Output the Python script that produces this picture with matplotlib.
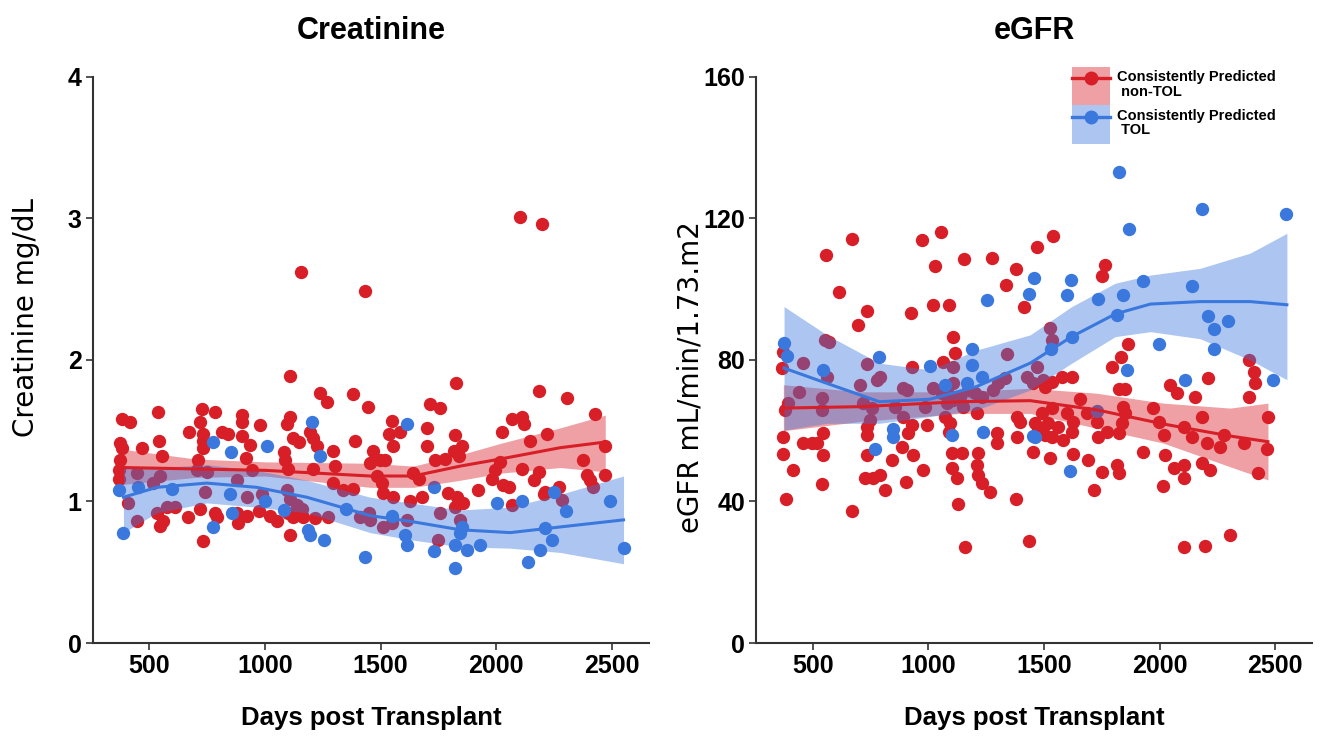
import numpy as np
import matplotlib
matplotlib.use('Agg')
import matplotlib.pyplot as plt
from matplotlib.patches import Patch
from matplotlib.lines import Line2D
from matplotlib.legend_handler import HandlerTuple

plt.rcParams['font.family'] = ['Liberation Sans', 'DejaVu Sans']

RED = '#D81E26'
BLUE = '#3B78DE'

# ---- Creatinine, consistently predicted non-TOL (days, mg/dL)
cr_red_days = [1155, 1433, 1109, 1238, 1268, 1382, 1446, 381, 417, 539, 727, 784, 719, 900, 900, 979,
               1109, 1094, 673, 733, 733, 733, 813, 842, 900, 936, 374, 380, 467, 543, 553, 374, 367,
               367, 1123, 1145, 1195, 1209, 1224, 1292, 1303, 1390, 1080, 1087, 1101, 712, 918, 943,
               1209, 445, 546, 517, 705, 748, 741, 878, 986, 921, 1094, 1109, 1138, 1159, 1296, 1339,
               1382, 409, 445, 575, 532, 611, 1412, 1448, 546, 560, 669, 719, 784, 791, 733, 878, 885,
               921, 972, 1022, 1051, 1101, 1123, 1109, 1166, 1217, 1274,
               1827, 2184, 2305, 2428, 1713, 1757, 1548, 1534, 1585, 1555, 1700, 1700, 1822, 1851, 1815,
               1837, 1736, 1779, 2024, 2067, 2111, 2118, 2219, 2147, 2471, 2374, 2017, 1469, 1455, 1498,
               1519, 1642, 1664, 1484, 1505, 1512, 1555, 1980, 1995, 2031, 2053, 2111, 2161, 2183, 2212,
               2205, 2270, 2284, 2392, 2420, 2471, 2406, 1678, 1793, 1830, 1858, 1822, 1923, 2067, 1627,
               1757, 1750, 1844, 1613, 1548, 1512, 1455, 2103, 2198]
cr_red_vals = [2.62, 2.49, 1.89, 1.77, 1.70, 1.76, 1.67, 1.58, 1.56, 1.63, 1.65, 1.63, 1.56, 1.61, 1.56, 1.54,
               1.60, 1.55, 1.49, 1.48, 1.43, 1.38, 1.49, 1.48, 1.46, 1.40, 1.41, 1.38, 1.38, 1.43, 1.32, 1.29, 1.22,
               1.16, 1.45, 1.42, 1.49, 1.45, 1.39, 1.36, 1.25, 1.43, 1.35, 1.29, 1.23, 1.29, 1.31, 1.22,
               1.23, 1.20, 1.18, 1.13, 1.22, 1.21, 1.07, 1.15, 1.05, 1.03, 1.08, 1.02, 0.975, 0.95, 1.13, 1.08,
               1.09, 0.99, 0.86, 0.96, 0.92, 0.96, 0.89, 0.92, 0.83, 0.86, 0.89, 0.95, 0.92, 0.89, 0.72, 0.92, 0.85,
               0.90, 0.93, 0.90, 0.86, 0.92, 0.89, 0.76, 0.89, 0.88, 0.89,
               1.84, 1.78, 1.73, 1.62, 1.69, 1.66, 1.57, 1.48, 1.49, 1.39, 1.52, 1.39, 1.47, 1.39, 1.36,
               1.32, 1.29, 1.30, 1.49, 1.58, 1.60, 1.55, 1.48, 1.43, 1.39, 1.29, 1.28, 1.36, 1.27, 1.29,
               1.29, 1.20, 1.16, 1.18, 1.13, 1.06, 1.03, 1.16, 1.22, 1.12, 1.10, 1.23, 1.15, 1.21, 1.07,
               1.05, 1.10, 1.01, 1.19, 1.10, 1.19, 1.15, 1.03, 1.06, 1.03, 0.99, 0.96, 1.08, 0.975, 1.00,
               0.92, 0.73, 0.87, 0.87, 0.85, 0.82, 0.87, 3.01, 2.96]

# ---- Creatinine, consistently predicted TOL
cr_blue_days = [1202, 774, 852, 1008, 1238, 370, 388, 849, 856, 777, 1188, 1195, 1253, 1433, 1080, 1613,
                1729, 2003, 2111, 2493, 2248, 2301, 2212, 2241, 2190, 2139, 2550, 1613, 1606, 1729, 1822,
                1844, 1873, 1930, 1822, 1851, 451, 600, 1000, 1350, 1550]
cr_blue_vals = [1.56, 1.42, 1.35, 1.39, 1.32, 1.08, 0.78, 1.05, 0.92, 0.82, 0.80, 0.76, 0.73, 0.61, 0.94, 1.55,
                1.10, 0.99, 1.00, 1.00, 1.07, 0.93, 0.81, 0.73, 0.66, 0.57, 0.67, 0.69, 0.76, 0.65, 0.69,
                0.78, 0.66, 0.69, 0.53, 0.82, 1.10, 1.09, 1.00, 0.95, 0.90]

# ---- Creatinine smooth fits
cr_red_fit_days = [380, 700, 1000, 1455, 1642, 1844, 2017, 2276, 2471]
cr_red_fit = [1.24, 1.23, 1.22, 1.18, 1.18, 1.25, 1.30, 1.38, 1.42]
cr_red_lo = [1.12, 1.17, 1.18, 1.10, 1.10, 1.15, 1.20, 1.24, 1.21]
cr_red_hi = [1.37, 1.30, 1.28, 1.27, 1.25, 1.33, 1.41, 1.52, 1.61]

cr_blue_fit_days = [388, 532, 748, 964, 1181, 1455, 1627, 1844, 2060, 2276, 2550]
cr_blue_fit = [1.03, 1.10, 1.13, 1.10, 1.03, 0.90, 0.86, 0.80, 0.78, 0.82, 0.87]
cr_blue_lo = [0.78, 0.92, 0.99, 0.96, 0.92, 0.78, 0.73, 0.68, 0.67, 0.64, 0.56]
cr_blue_hi = [1.24, 1.24, 1.26, 1.22, 1.15, 1.03, 0.99, 0.94, 0.96, 1.05, 1.18]

# ---- eGFR, consistently predicted non-TOL (days, mL/min/1.73m2)
eg_red_days = [669, 556, 971, 1055, 614, 1029, 1156, 1277, 1379, 1335, 1469, 736, 697, 924, 1022, 1091, 1414,
               1105, 553, 572, 1115, 373, 366, 733, 928, 1065, 1108, 1339,
               457, 442, 561, 394, 380, 539, 539, 705, 777, 791, 719, 755, 733, 748, 892, 906, 856, 892, 928,
               993, 986, 1022, 1058, 1080, 1108, 1080, 1108, 1137, 1151, 1173, 1202, 1231, 1281, 1303, 1332,
               1426, 1454, 1469, 1072, 1094, 1087, 1209, 1382, 1397,
               373, 373, 459, 495, 517, 546, 546, 416, 539, 385, 671, 733, 733, 726, 762, 791, 813, 842, 885,
               935, 913, 978, 902, 1101, 1144, 1101, 1123, 1216, 1209, 1216, 1231, 1267, 1130, 1159, 1296,
               1296, 1382, 1454, 1379, 1437,
               1526, 1534, 1497, 1540, 1764, 1750, 1861, 1832, 1793, 1822, 1851, 1577, 1620, 1534, 1505, 2045,
               2074, 2153, 2211, 2384, 2406, 2413, 2384, 1656, 1685, 1728, 1490, 1534, 1519, 1562, 1462, 1476,
               1599, 1627, 1620, 1505, 1534, 1584, 1735, 1772, 1822, 1837, 1851, 1843, 1973, 1995, 2017, 2103,
               2139, 2182, 2204, 2262, 2276, 2363, 2468, 2466, 2425, 1526, 1627, 1692, 1750, 1817, 1822, 1714,
               1930, 2024, 2060, 2103, 2103, 2182, 2218, 2014, 2106, 2197, 2302]
eg_red_vals = [114.1, 109.7, 113.9, 116.3, 99.3, 106.7, 108.5, 108.9, 105.6, 101.2, 112.0, 93.7, 89.9, 93.4, 95.5,
               95.5, 95.1, 86.6, 85.7, 85.2, 82.1, 82.3, 77.8, 78.8, 78.1, 79.5, 78.1, 81.7,
               79.1, 71.0, 75.3, 67.8, 65.9, 69.2, 65.9, 72.9, 74.3, 75.3, 67.8, 66.3, 61.1, 63.0, 72.0, 71.5, 66.8,
               64.0, 61.6, 61.6, 66.8, 72.0, 70.6, 71.5, 73.4, 67.8, 68.7, 69.6, 66.8, 71.5, 70.6, 69.6, 71.5, 73.4,
               74.8, 75.3, 73.4, 78.1, 64.0, 62.1, 59.7, 64.9, 64.0, 62.6,
               58.3, 53.3, 56.5, 56.5, 56.5, 59.3, 53.1, 48.9, 44.9, 40.6, 37.3, 58.8, 53.0, 46.6, 46.6, 47.5, 43.3,
               51.7, 55.5, 53.1, 59.3, 48.9, 45.6, 53.6, 53.6, 49.4, 46.6, 53.6, 50.3, 47.5, 45.1, 42.8, 39.3, 27.2,
               59.3, 56.5, 58.2, 54.1, 40.6, 28.9,
               89.0, 85.7, 74.4, 115.1, 106.9, 103.6, 84.5, 80.9, 77.9, 71.7, 71.7, 75.3, 75.3, 73.9, 72.5, 72.9,
               70.6, 69.6, 75.0, 80.0, 76.7, 73.4, 69.6, 68.9, 64.9, 62.6, 64.9, 66.3, 62.1, 61.1, 62.1, 60.2,
               64.9, 62.6, 59.7, 58.8, 58.3, 57.4, 58.3, 59.7, 59.3, 62.1, 64.9, 66.8, 66.3, 62.6, 58.8, 61.1,
               58.3, 64.0, 56.5, 55.5, 58.8, 56.5, 64.0, 54.8, 48.0, 52.2, 53.4, 51.7, 48.4, 50.3, 48.1, 43.3,
               54.1, 53.1, 49.4, 50.3, 46.6, 50.8, 48.9, 44.4, 27.1, 27.4, 30.5]

# ---- eGFR, consistently predicted TOL
eg_blue_days = [376, 388, 546, 788, 1007, 1188, 1188, 1072, 1166, 1231, 1253, 1437, 1457, 846, 849, 770, 1238,
                1101, 1454, 1822, 2182, 2547, 1869, 1616, 1601, 1735, 1843, 1930, 2139, 1815, 2211, 2295, 2236,
                1620, 1999, 2233, 1529, 1858, 2110, 2490, 1462, 1613, 1728]
eg_blue_vals = [84.7, 81.1, 77.2, 80.8, 78.3, 83.0, 78.6, 72.9, 73.4, 75.3, 97.0, 98.7, 103.3, 60.4, 58.3, 54.8, 59.7,
                58.8, 58.5, 133.2, 122.6, 121.2, 117.0, 102.6, 98.4, 97.2, 98.4, 102.4, 100.9, 92.7, 92.5, 91.0, 88.7,
                86.6, 84.5, 83.0, 83.0, 77.2, 74.4, 74.4, 58.3, 48.7, 65.7]

# ---- eGFR smooth fits
eg_red_fit_days = [373, 705, 1137, 1440, 1728, 2016, 2305, 2468]
eg_red_fit = [66.4, 66.8, 68.2, 68.5, 65.9, 61.9, 58.5, 56.9]
eg_red_lo = [60.0, 62.6, 64.9, 64.9, 60.7, 56.5, 49.8, 46.1]
eg_red_hi = [73.0, 71.0, 71.0, 72.0, 70.6, 67.8, 66.4, 67.8]

eg_blue_fit_days = [376, 561, 788, 1007, 1209, 1440, 1620, 1808, 1960, 2175, 2391, 2550]
eg_blue_fit = [77.7, 73.4, 68.2, 68.9, 72.5, 79.1, 86.6, 93.0, 95.8, 96.5, 96.5, 95.6]
eg_blue_lo = [60.2, 62.1, 62.1, 64.0, 65.9, 71.5, 79.1, 86.6, 88.0, 86.0, 80.0, 74.4]
eg_blue_hi = [95.1, 87.1, 79.1, 77.2, 82.8, 87.1, 95.1, 101.7, 104.0, 105.9, 110.2, 115.8]


def draw_panel(ax, red_pts, blue_pts, red_fit, blue_fit, ylim, yticks, title, ylabel, ylab_x, ylab_y):
    ax.scatter(red_pts[0], red_pts[1], s=92, color=RED, linewidths=0, zorder=2)
    ax.scatter(blue_pts[0], blue_pts[1], s=92, color=BLUE, linewidths=0, zorder=2)
    for fit, col in ((red_fit, RED), (blue_fit, BLUE)):
        d, m, lo, hi = fit
        ax.fill_between(d, lo, hi, color=col, alpha=0.42, linewidth=0, zorder=3)
        ax.plot(d, m, color=col, linewidth=2.2, zorder=4)

    ax.set_xlim(255, 2660)
    ax.set_ylim(*ylim)
    ax.set_xticks([500, 1000, 1500, 2000, 2500])
    ax.set_yticks(yticks)
    for side in ('top', 'right'):
        ax.spines[side].set_visible(False)
    for side in ('left', 'bottom'):
        ax.spines[side].set_linewidth(1.5)
        ax.spines[side].set_color('#333333')
    ax.tick_params(axis='both', length=5, width=1.2, color='#333333', labelsize=18, pad=3)
    for lab in ax.get_xticklabels() + ax.get_yticklabels():
        lab.set_fontweight('bold')
    ax.set_title(title, fontsize=22, fontweight='bold', pad=27)
    ax.set_xlabel('Days post Transplant', fontsize=18.5, fontweight='bold', labelpad=20)
    ax.set_ylabel(ylabel, fontsize=20, family=['DejaVu Sans'])
    ax.yaxis.set_label_coords(ylab_x, ylab_y)


fig = plt.figure(figsize=(13.22, 7.39), dpi=100)
ax1 = fig.add_axes([0.0701, 0.1299, 0.4208, 0.766])
ax2 = fig.add_axes([0.5719, 0.1299, 0.4208, 0.766])

draw_panel(ax1, (cr_red_days, cr_red_vals), (cr_blue_days, cr_blue_vals),
           (cr_red_fit_days, cr_red_fit, cr_red_lo, cr_red_hi),
           (cr_blue_fit_days, cr_blue_fit, cr_blue_lo, cr_blue_hi),
           (0, 4), [0, 1, 2, 3, 4], 'Creatinine', 'Creatinine mg/dL', -0.095, 0.575)
draw_panel(ax2, (eg_red_days, eg_red_vals), (eg_blue_days, eg_blue_vals),
           (eg_red_fit_days, eg_red_fit, eg_red_lo, eg_red_hi),
           (eg_blue_fit_days, eg_blue_fit, eg_blue_lo, eg_blue_hi),
           (0, 160), [0, 40, 80, 120, 160], 'eGFR', 'eGFR mL/min/1.73.m2', -0.092, 0.47)

handles = [(Patch(color=RED, alpha=0.42, linewidth=0), Line2D([], [], color=RED, lw=2.4, marker='o', ms=9)),
           (Patch(color=BLUE, alpha=0.42, linewidth=0), Line2D([], [], color=BLUE, lw=2.4, marker='o', ms=9))]
labels = ['Consistently Predicted\n non-TOL', 'Consistently Predicted\n TOL']
leg = ax2.legend(handles, labels, handler_map={tuple: HandlerTuple(ndivide=1, pad=0)},
                 loc='upper left', bbox_to_anchor=(0.568, 1.018), frameon=False,
                 borderaxespad=0, borderpad=0, labelspacing=0, handlelength=2.6, handleheight=3.7,
                 handletextpad=0.45, numpoints=1,
                 prop={'size': 10.5, 'weight': 'bold'})
for t in leg.get_texts():
    t.set_linespacing(1.05)

fig.savefig('out.png', dpi=100)
